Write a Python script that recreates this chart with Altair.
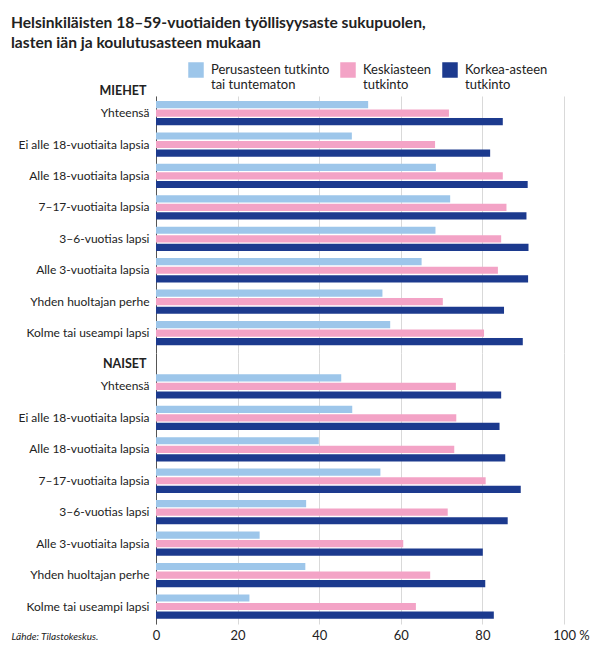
import altair as alt
import pandas as pd

# ---- data ----
categories = [
    "Yhteensä",
    "Ei alle 18-vuotiaita lapsia",
    "Alle 18-vuotiaita lapsia",
    "7–17-vuotiaita lapsia",
    "3–6-vuotias lapsi",
    "Alle 3-vuotiaita lapsia",
    "Yhden huoltajan perhe",
    "Kolme tai useampi lapsi",
]
levels = ["Perusasteen tutkinto|tai tuntematon", "Keskiasteen|tutkinto", "Korkea-asteen|tutkinto"]
colors = ["#9DC6EA", "#F3A3C6", "#1C3A8E"]

men_perus = [52.0, 48.0, 68.6, 72.1, 68.5, 65.1, 55.5, 57.4]
men_keski = [71.8, 68.4, 85.0, 85.9, 84.6, 83.8, 70.3, 80.4]
men_korkea = [85.0, 81.9, 91.1, 90.8, 91.3, 91.2, 85.3, 89.9]

women_perus = [45.4, 48.1, 39.9, 55.0, 36.8, 25.4, 36.6, 22.9]
women_keski = [73.5, 73.6, 73.1, 80.8, 71.5, 60.6, 67.2, 63.7]
women_korkea = [84.6, 84.2, 85.6, 89.4, 86.2, 80.1, 80.7, 82.8]

x_ticks = [0, 20, 40, 60, 80, 100]


def long_df(a, b, c):
    rows = []
    for i, cat in enumerate(categories):
        for lev, vals in zip(levels, (a, b, c)):
            rows.append({"ryhma": cat, "taso": lev, "arvo": vals[i]})
    return pd.DataFrame(rows)


men_df = long_df(men_perus, men_keski, men_korkea)
women_df = long_df(women_perus, women_keski, women_korkea)

FONT = "Lato"
W = 408
EXT = 142

color_enc = alt.Color(
    "taso:N",
    sort=levels,
    scale=alt.Scale(domain=levels, range=colors),
    legend=alt.Legend(
        title=None,
        orient="none",
        legendX=32,
        legendY=-34,
        direction="horizontal",
        symbolType="square",
        symbolSize=240,
        symbolStrokeWidth=0,
        symbolOpacity=1,
        labelExpr="split(datum.label, '|')",
        labelFont=FONT,
        labelFontSize=13,
        labelColor="#222222",
        labelOffset=7,
        columnPadding=10,
        padding=0,
        labelLimit=200,
    ),
)

yoff = alt.YOffset("taso:N", sort=levels, scale=alt.Scale(paddingInner=0.16, paddingOuter=0))


def panel(df, title, title_y, height, pad_outer, align, bottom):
    if bottom:
        xaxis = alt.Axis(
            values=x_ticks,
            grid=True,
            gridColor="#D9D9D9",
            ticks=False,
            domain=False,
            labelFont=FONT,
            labelFontSize=13,
            labelColor="#222222",
            labelPadding=5,
            labelFlush=False,
            labelExpr="datum.value == 100 ? '100 %' : datum.label",
            labelOffset={"condition": {"test": "datum.value == 100", "value": 7}, "value": 0},
            title="Lähde: Tilastokeskus.",
            titleFont=FONT,
            titleFontSize=10,
            titleFontStyle="italic",
            titleFontWeight="normal",
            titleColor="#222222",
            titleAlign="left",
            titleBaseline="middle",
            titleAnchor="start",
            titleX=-145,
            titleY=12,
        )
    else:
        xaxis = alt.Axis(
            values=x_ticks,
            grid=True,
            gridColor="#D9D9D9",
            ticks=False,
            domain=False,
            labels=False,
            title=None,
            minExtent=0,
            maxExtent=0,
        )
    return (
        alt.Chart(df)
        .mark_bar()
        .encode(
            x=alt.X("arvo:Q", scale=alt.Scale(domain=[0, 100], nice=False), axis=xaxis),
            y=alt.Y(
                "ryhma:N",
                sort=categories,
                scale=alt.Scale(paddingInner=0.227, paddingOuter=pad_outer, align=align),
                axis=alt.Axis(
                    title=title,
                    titleAngle=0,
                    titleAlign="right",
                    titleBaseline="middle",
                    titleX=-10,
                    titleY=title_y,
                    titleFont=FONT,
                    titleFontSize=12.5,
                    titleFontWeight="bold",
                    titleColor="#222222",
                    ticks=False,
                    grid=False,
                    domain=True,
                    domainColor="#555555",
                    labelFont=FONT,
                    labelFontSize=12,
                    labelColor="#222222",
                    labelPadding=7,
                    labelLimit=200,
                    minExtent=EXT,
                    maxExtent=EXT,
                ),
            ),
            yOffset=yoff,
            color=color_enc,
        )
        .properties(width=W, height=height)
    )


top = panel(men_df, "MIEHET", -6, 257, 0.202, 0.39, False)
bottom = panel(women_df, "NAISET", 10.7, 271, 0.423, 0.80, True)

chart = (
    alt.vconcat(top, bottom, spacing=0)
    .properties(
        padding={"left": 3, "top": 8, "right": 0, "bottom": 5},
        title=alt.TitleParams(
            text=[
                "Helsinkiläisten 18–59-vuotiaiden työllisyysaste sukupuolen,",
                "lasten iän ja koulutusasteen mukaan",
            ],
            anchor="start",
            font=FONT,
            fontSize=15.6,
            fontWeight="bold",
            color="#222222",
            lineHeight=20,
            offset=10,
        ),
    )
    .configure_view(stroke=None)
)

chart.save("out.html", embed_options={"renderer": "svg", "actions": False})
